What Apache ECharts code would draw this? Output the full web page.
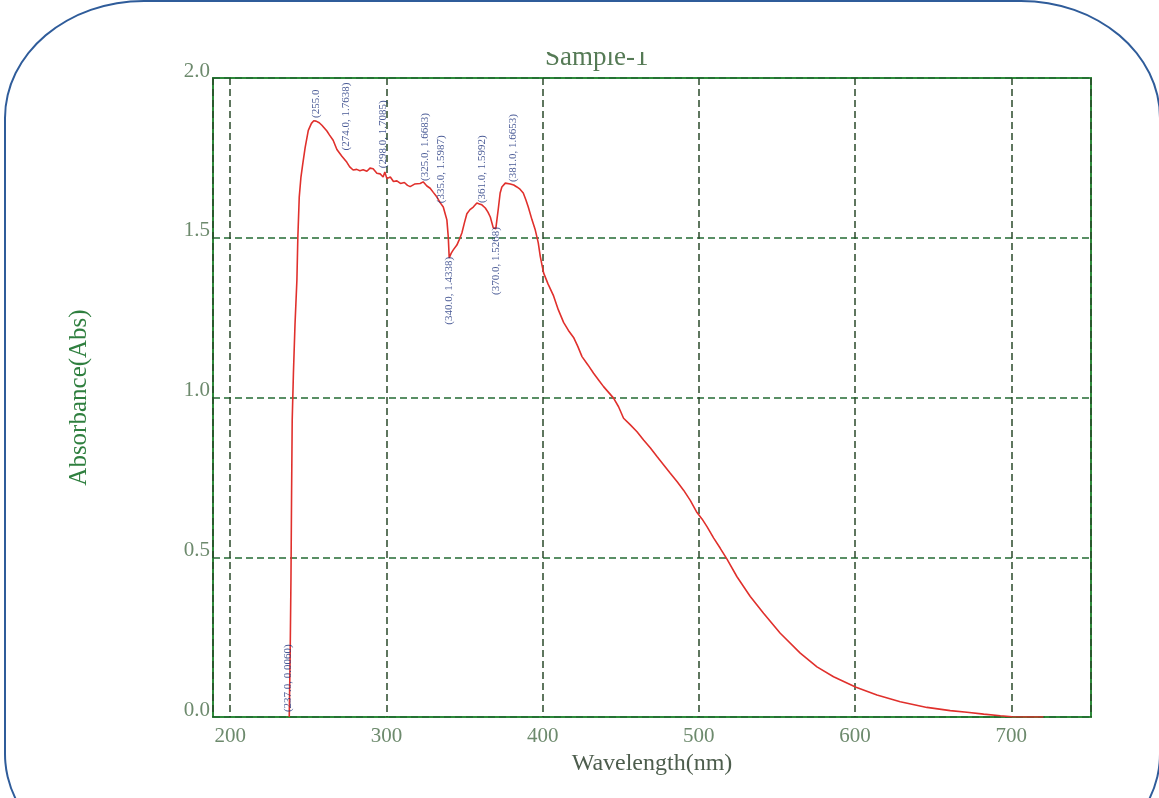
<!DOCTYPE html>
<html><head><meta charset="utf-8">
<script src="https://cdn.jsdelivr.net/npm/echarts/dist/echarts.min.js"></script>
<style>
html,body{margin:0;padding:0;background:#fff;overflow:hidden;width:1159px;height:798px;}
#chart{position:absolute;left:0;top:0;width:1159px;height:798px;}
#frame{position:absolute;left:4px;top:0;width:1157px;height:872px;box-sizing:border-box;border:2px solid #2f5c9a;border-radius:140px/118px;pointer-events:none;}
</style></head>
<body>
<div id="chart"></div><div id="frame"></div>
<script>
const titleText = 'Sample-1';
const xName = 'Wavelength(nm)';
const yName = 'Absorbance(Abs)';
const yTicks = [0, 0.5, 1.0, 1.5, 2.0];

const wavelength = [237.8, 238.4, 238.9, 239.3, 239.7, 240.5, 241.5, 242.7, 243.3, 244.2, 245.3, 246.5, 248.0, 250.0, 252.0, 253.5, 255.0, 257.0, 258.7, 261.9, 263.5, 265.9, 268.3, 271.5, 274.7, 276.5, 278.7, 281.0, 283.0, 285.1, 287.5, 289.5, 291.5, 292.5, 293.9, 296.0, 297.9, 299.0, 300.3, 302.5, 304.5, 306.7, 309.0, 311.5, 313.5, 315.2, 318.0, 321.6, 323.5, 325.9, 328.0, 330.0, 332.2, 334.4, 336.4, 337.6, 338.7, 339.6, 340.2, 341.5, 342.8, 345.1, 346.7, 348.3, 350.0, 351.5, 353.5, 355.6, 357.9, 359.5, 361.1, 363.3, 365.0, 366.5, 368.4, 370.0, 370.7, 371.6, 372.8, 373.9, 376.1, 379.3, 381.5, 383.5, 385.5, 387.6, 389.3, 390.8, 393.2, 395.3, 397.2, 398.5, 400.6, 403.5, 407.0, 410.0, 413.4, 416.5, 419.8, 422.5, 425.2, 429.0, 432.6, 435.8, 439.0, 442.2, 445.4, 448.6, 451.8, 456.0, 460.4, 464.6, 469.0, 473.2, 477.5, 481.7, 486.0, 490.2, 494.5, 498.8, 502.0, 505.2, 509.5, 513.7, 518.0, 524.4, 532.9, 541.4, 552.1, 564.9, 575.6, 586.2, 600.6, 614.0, 628.9, 646.0, 660.9, 671.6, 682.3, 693.0, 700.4, 710.0, 720.5];
const absorbance = [0.000, 0.200, 0.430, 0.700, 0.930, 1.080, 1.230, 1.367, 1.500, 1.627, 1.690, 1.733, 1.783, 1.836, 1.858, 1.866, 1.865, 1.860, 1.852, 1.834, 1.822, 1.805, 1.776, 1.755, 1.736, 1.722, 1.712, 1.714, 1.710, 1.713, 1.708, 1.718, 1.716, 1.722, 1.702, 1.700, 1.690, 1.706, 1.685, 1.690, 1.676, 1.678, 1.670, 1.673, 1.664, 1.660, 1.668, 1.670, 1.675, 1.662, 1.655, 1.642, 1.628, 1.610, 1.596, 1.575, 1.556, 1.502, 1.437, 1.452, 1.462, 1.477, 1.495, 1.515, 1.548, 1.575, 1.588, 1.596, 1.609, 1.606, 1.603, 1.593, 1.580, 1.565, 1.531, 1.528, 1.524, 1.590, 1.640, 1.659, 1.671, 1.668, 1.665, 1.659, 1.652, 1.640, 1.618, 1.596, 1.556, 1.524, 1.484, 1.441, 1.390, 1.355, 1.318, 1.275, 1.235, 1.210, 1.188, 1.160, 1.128, 1.102, 1.076, 1.055, 1.034, 1.016, 0.998, 0.971, 0.935, 0.915, 0.893, 0.867, 0.842, 0.815, 0.789, 0.763, 0.737, 0.710, 0.678, 0.640, 0.620, 0.596, 0.560, 0.528, 0.494, 0.439, 0.377, 0.325, 0.262, 0.200, 0.157, 0.126, 0.093, 0.069, 0.048, 0.030, 0.020, 0.015, 0.009, 0.004, 0.001, 0.000, 0.000];

const peakNm = [237.0, 255.0, 274.0, 298.0, 325.0, 335.0, 340.0, 361.0, 370.0, 381.0];
const peakAbs = [0.0060, 1.8654, 1.7638, 1.7085, 1.6683, 1.5987, 1.4338, 1.5992, 1.5268, 1.6653];
const peakText = ['(237.0, 0.0060)', '(255.0', '(274.0, 1.7638)', '(298.0, 1.7085)', '(325.0, 1.6683)', '(335.0, 1.5987)', '(340.0, 1.4338)', '(361.0, 1.5992)', '(370.0, 1.5268)', '(381.0, 1.6653)'];
const peakSide = ['up', 'up', 'up', 'up', 'up', 'up', 'down', 'up', 'down', 'up'];

const SERIF = "'Liberation Serif','DejaVu Serif',serif";
const curve = wavelength.map((x, i) => [x, absorbance[i]]);
const marks = peakNm.map((x, i) => ({
  value: [x, peakAbs[i]],
  label: peakSide[i] === 'up'
    ? { position: 'top', align: 'left', verticalAlign: 'middle', distance: 3 }
    : { position: 'bottom', align: 'right', verticalAlign: 'middle', distance: 3, offset: [5, 0] },
  name: peakText[i]
}));

const chart = echarts.init(document.getElementById('chart'));
chart.setOption({
  animation: false,
  backgroundColor: '#ffffff',
  title: {
    text: titleText, left: 545, top: 44, padding: 0,
    textStyle: { fontFamily: SERIF, fontSize: 27, fontWeight: 'normal', color: '#557a55' }
  },
  grid: { left: 213, right: 68, top: 78, bottom: 81, show: true, borderColor: '#2e8b3a', borderWidth: 2, backgroundColor: 'transparent' },
  xAxis: {
    type: 'value', min: 189, max: 751,
    name: xName, nameLocation: 'middle', nameGap: 29,
    nameTextStyle: { fontFamily: SERIF, fontSize: 24, color: '#4d5d4d', verticalAlign: 'top' },
    axisLine: { show: false }, axisTick: { show: false },
    axisLabel: {
      showMinLabel: false, showMaxLabel: false, margin: 9,
      fontFamily: SERIF, fontSize: 21, color: '#6d8a6d',
      formatter: v => (Math.abs(v % 100) < 1e-6 ? String(v) : '')
    },
    splitLine: { show: true, lineStyle: { type: [7, 4], color: '#2a4a2a', width: 1.5 } }
  },
  yAxis: {
    type: 'value', min: yTicks[0], max: yTicks[yTicks.length - 1], interval: 0.5,
    name: yName, nameLocation: 'middle', nameGap: 121, nameRotate: 90,
    nameTextStyle: { fontFamily: SERIF, fontSize: 25, color: '#2f7f3f' },
    axisLine: { show: false }, axisTick: { show: false },
    axisLabel: {
      margin: 3, fontFamily: SERIF, fontSize: 21, color: '#6d8a6d',
      verticalAlign: 'bottom', lineHeight: 14,
      formatter: v => v.toFixed(1)
    },
    splitLine: { show: true, lineStyle: { type: [7, 4], color: '#236b33', width: 1.5 } }
  },
  graphic: [
    { type: 'rect', shape: { x: 500, y: 14, width: 220, height: 38 }, style: { fill: '#ffffff' }, z: 100 }
  ],
  series: [
    {
      type: 'line', data: curve, showSymbol: false, symbol: 'none',
      lineStyle: { color: '#e0302c', width: 1.6 }, z: 5
    },
    {
      type: 'scatter', data: marks, symbolSize: 0, z: 6,
      label: {
        show: true, rotate: 90, formatter: p => p.name,
        fontFamily: SERIF, fontSize: 11, color: '#1a2f7a'
      }
    }
  ]
});
</script></body></html>
